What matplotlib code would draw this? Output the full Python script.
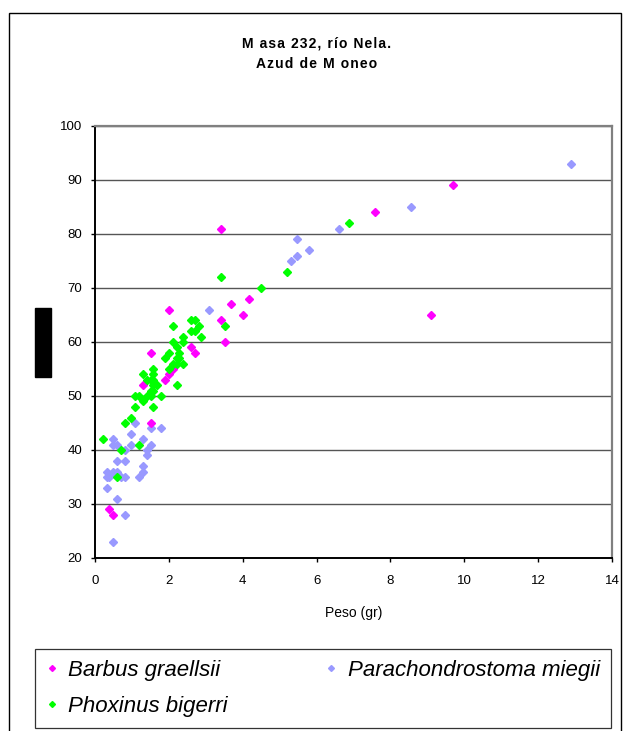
import matplotlib
matplotlib.use("Agg")
import matplotlib.pyplot as plt
from matplotlib.patches import Rectangle

plt.rcParams['font.family'] = ['Liberation Sans', 'DejaVu Sans']

# Barbus graellsii (magenta)
barbus_peso = [2.0, 1.52, 2.6, 2.71, 2.11, 2.0, 1.9, 1.3, 1.52, 0.38, 0.49,
               4.17, 3.68, 4.01, 3.41, 3.52, 3.41, 7.58, 9.69, 9.10]
barbus_long = [66, 58, 59, 58, 55, 54, 53, 52, 45, 29, 28,
               68, 67, 65, 64, 60, 81, 84, 89, 65]

# Phoxinus bigerri (green)
phox_peso = [2.11, 2.6, 2.71, 2.82, 2.6, 2.71, 2.87, 2.38, 2.11, 2.38,
             2.22, 2.27, 2.0, 1.9, 2.22, 2.27, 2.11, 2.22, 2.38, 2.0,
             1.3, 1.57, 1.57, 1.41, 1.52, 1.57, 1.68, 1.57, 1.52, 1.57,
             2.22, 1.08, 1.19, 1.41, 1.52, 1.79, 1.3, 1.08, 1.57, 0.97,
             0.81, 0.22, 1.19, 0.70, 0.60, 3.41, 5.20, 4.50, 3.52, 6.88]
phox_long = [63, 64, 64, 63, 62, 62, 61, 61, 60, 60,
             59, 58, 58, 57, 57, 57, 56, 56, 56, 55,
             54, 55, 54, 53, 53, 53, 52, 52, 51, 51,
             52, 50, 50, 50, 50, 50, 49, 48, 48, 46,
             45, 42, 41, 40, 35, 72, 73, 70, 63, 82]

# Parachondrostoma miegii (lavender)
para_peso = [3.09, 1.08, 1.52, 1.79, 0.97, 0.49, 0.49, 0.60, 0.97, 1.30,
             1.52, 0.81, 1.41, 1.41, 0.60, 0.81, 1.30, 1.30, 0.32, 0.49,
             0.60, 0.32, 0.38, 0.70, 0.81, 1.19, 0.32, 0.60, 0.81, 0.49,
             6.61, 5.47, 5.79, 5.47, 5.31, 12.89, 8.56]
para_long = [66, 45, 44, 44, 43, 42, 41, 41, 41, 42,
             41, 40, 40, 39, 38, 38, 37, 36, 36, 36,
             36, 35, 35, 35, 35, 35, 33, 31, 28, 23,
             81, 79, 77, 76, 75, 93, 85]

title_lines = ['M asa 232, río Nela.', 'Azud de M oneo']

W, H = 626, 731
fig = plt.figure(figsize=(W / 100, H / 100), dpi=100)

# outer chart frame
fig.patches.append(Rectangle((9 / W, -0.01), (621 - 9) / W, 1.01 - 13 / H,
                             transform=fig.transFigure, fill=False,
                             edgecolor='black', linewidth=1.0))

ax = fig.add_axes([95 / W, (H - 558) / H, (612 - 95) / W, (558 - 126) / H])

ms = 4
ax.plot(barbus_peso, barbus_long, 'D', color='#FF00FF', markersize=ms,
        label='Barbus graellsii', zorder=3)
ax.plot(phox_peso, phox_long, 'D', color='#00FF00', markersize=ms,
        label='Phoxinus bigerri', zorder=3)
ax.plot(para_peso, para_long, 'D', color='#9999FF', markersize=ms,
        label='Parachondrostoma miegii', zorder=2)

ax.set_xlim(0, 14)
ax.set_ylim(20, 100)
ax.set_xticks(range(0, 15, 2))
ax.set_yticks(range(20, 101, 10))
ax.yaxis.grid(True, color='#555555', linewidth=1.0)
ax.set_axisbelow(True)
ax.tick_params(labelsize=9.5, length=3, width=1, direction='out')
ax.tick_params(axis='x', pad=9)
ax.tick_params(axis='y', pad=6)

for s in ['left', 'bottom']:
    ax.spines[s].set_color('black')
    ax.spines[s].set_linewidth(1.4)
for s in ['top', 'right']:
    ax.spines[s].set_color('#808080')
    ax.spines[s].set_linewidth(1.6)

ax.set_xlabel('Peso (gr)', fontsize=10, labelpad=14)

# letter-spaced bold title
for i, line in enumerate(title_lines):
    spaced = '\u200a'.join(line)
    fig.text(0.505, (H - 44 - 20 * i) / H, spaced, ha='center', va='center',
             fontsize=10, fontweight='bold')

# hidden y label box
fig.patches.append(Rectangle((35 / W, (H - 377) / H), 16 / W, 69 / H,
                             transform=fig.transFigure, color='black'))

h, l = ax.get_legend_handles_labels()
leg = fig.legend(h, l, ncol=2, loc='upper left', mode='expand',
                 bbox_to_anchor=(35 / W, (H - 649) / H, (611 - 35) / W, 0),
                 prop={'size': 16, 'style': 'italic'}, frameon=True,
                 fancybox=False, edgecolor='black', markerscale=0.75,
                 handlelength=0.5, handletextpad=0.5, borderaxespad=0,
                 labelspacing=0.68, borderpad=0.5)
leg.get_frame().set_linewidth(0.9)

fig.savefig('out.png', dpi=100)
